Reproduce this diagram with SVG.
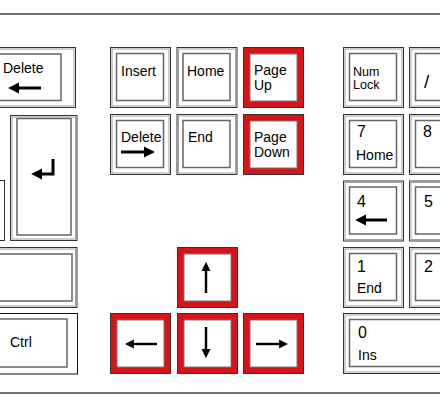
<svg xmlns="http://www.w3.org/2000/svg" xmlns:xlink="http://www.w3.org/1999/xlink" width="440" height="418" viewBox="0 0 440 418">
<style>
.ko{fill:#fff;stroke:#333;stroke-width:1}
.kg{fill:none;stroke:#a0a0a0;stroke-width:1}
.ki{fill:#fff;stroke:#666;stroke-width:1.5}
.rk{fill:#d7141a;stroke:#333;stroke-width:1}
.ri{fill:#fff;stroke:#777;stroke-width:1}
.rule{stroke:#444;stroke-width:1.5}
text{font-family:"Liberation Sans",Arial,sans-serif;fill:#000}
.lb{font-size:14px}
.sm{font-size:12.5px}
.dg{font-size:16px}
.ar{fill:none;stroke:#000;stroke-width:3}
.ar2{fill:none;stroke:#000;stroke-width:2.4}
</style>
<defs>
<marker id="hd" viewBox="0 0 10 10" refX="1" refY="5" markerWidth="11" markerHeight="12" markerUnits="userSpaceOnUse" orient="auto"><path d="M0,0 L10,5 L0,10 z" fill="#000"/></marker>
<marker id="hs" viewBox="0 0 10 10" refX="1" refY="5" markerWidth="9" markerHeight="11" markerUnits="userSpaceOnUse" orient="auto"><path d="M0,0 L10,5 L0,10 z" fill="#000"/></marker>
<g id="std">
<rect x="0.5" y="0.5" width="60" height="60" class="ko"/>
<rect x="2" y="2" width="57" height="57" class="kg"/>
<rect x="6.5" y="6.5" width="47" height="47" class="ki"/>
</g>
<g id="red">
<rect x="0.5" y="0.5" width="60" height="60" class="rk"/>
<rect x="7" y="7" width="47" height="47" class="ri"/>
</g>
</defs>

<g id="frame">
<line x1="0" y1="14" x2="440" y2="14" class="rule"/>
<line x1="0" y1="393" x2="440" y2="393" class="rule"/>
</g>

<g id="key-delete-left">
<rect x="-10" y="47.5" width="85.5" height="60" class="ko"/>
<rect x="-10" y="49" width="84" height="57" class="kg"/>
<rect x="-10" y="54" width="71" height="46.5" class="ki"/>
<text x="3" y="73" class="lb">Delete</text>
</g>
<g id="key-enter">
<rect x="10.5" y="115.5" width="66.5" height="125" class="ko"/>
<rect x="12" y="117" width="63.5" height="122" class="kg"/>
<rect x="17" y="118.5" width="54" height="116.5" class="ki"/>
</g>
<g id="key-partial">
<rect x="-60" y="180.5" width="64.5" height="60" class="ko"/>
</g>
<g id="key-shift">
<rect x="-10" y="247.5" width="87" height="60" class="ko"/>
<rect x="-10" y="249" width="85.5" height="57" class="kg"/>
<rect x="-10" y="254" width="82" height="47" class="ki"/>
</g>
<g id="key-ctrl">
<rect x="-10" y="313.5" width="87.5" height="60.5" class="ko" style="stroke:#111"/>
<rect x="-10" y="319" width="77" height="48" class="ki"/>
<text x="10" y="347" class="lb">Ctrl</text>
</g>

<g id="key-insert"><use xlink:href="#std" x="110" y="47"/><text x="121" y="76" class="lb">Insert</text></g>
<g id="key-home"><use xlink:href="#std" x="176.5" y="47"/><text x="187" y="76" class="lb">Home</text></g>
<g id="key-pageup"><use xlink:href="#red" x="243" y="47"/><text x="254" y="75" class="lb">Page</text><text x="254" y="89.5" class="lb">Up</text></g>
<g id="key-delete"><use xlink:href="#std" x="110" y="114"/><text x="121" y="142" class="lb">Delete</text></g>
<g id="key-end"><use xlink:href="#std" x="176.5" y="114"/><text x="188" y="142" class="lb">End</text></g>
<g id="key-pagedown"><use xlink:href="#red" x="243" y="114"/><text x="254" y="142" class="lb">Page</text><text x="254" y="157" class="lb">Down</text></g>

<g id="key-up"><use xlink:href="#red" x="177" y="247"/></g>
<g id="key-left"><use xlink:href="#red" x="110" y="313"/></g>
<g id="key-down"><use xlink:href="#red" x="177" y="313"/></g>
<g id="key-right"><use xlink:href="#red" x="243" y="313"/></g>

<g id="key-numlock"><use xlink:href="#std" x="343" y="47"/><text x="353" y="76" class="sm">Num</text><text x="353" y="89" class="sm">Lock</text></g>
<g id="key-divide">
<rect x="409.5" y="47.5" width="60" height="60" class="ko"/>
<rect x="411" y="49" width="57" height="57" class="kg"/>
<rect x="415.5" y="53.5" width="47" height="47" class="ki"/>
<text x="424" y="88" style="font-size:19px">/</text>
</g>
<g id="key-7"><use xlink:href="#std" x="343" y="114"/><text x="357" y="137" class="dg">7</text><text x="356" y="160" class="lb">Home</text></g>
<g id="key-8"><use xlink:href="#std" x="409" y="114"/><text x="423" y="137" class="dg">8</text></g>
<g id="key-4"><use xlink:href="#std" x="343" y="180.5"/><text x="357" y="207" class="dg">4</text></g>
<g id="key-5"><use xlink:href="#std" x="409" y="180.5"/><text x="424" y="207" class="dg">5</text></g>
<g id="key-1"><use xlink:href="#std" x="343" y="247"/><text x="357" y="272" class="dg">1</text><text x="357" y="293" class="lb">End</text></g>
<g id="key-2"><use xlink:href="#std" x="409" y="247"/><text x="424" y="272" class="dg">2</text></g>
<g id="key-0">
<rect x="343.5" y="313.5" width="140" height="60" class="ko"/>
<rect x="345" y="315" width="137" height="57" class="kg"/>
<rect x="349.5" y="319.5" width="127" height="47" class="ki"/>
<text x="358" y="338" class="dg">0</text><text x="358" y="360" class="lb">Ins</text>
</g>

<g id="connectors">
<path d="M41,88 H18" class="ar" marker-end="url(#hd)"/>
<path d="M121,152 H145" class="ar" marker-end="url(#hd)"/>
<path d="M53,159 V174 H41" class="ar" marker-end="url(#hd)"/>
<path d="M387,220 H365" class="ar" marker-end="url(#hd)"/>
<path d="M206,293 V270" class="ar2" marker-end="url(#hs)"/>
<path d="M206,327 V350" class="ar2" marker-end="url(#hs)"/>
<path d="M157,344 H133" class="ar2" marker-end="url(#hs)"/>
<path d="M256,344 H280" class="ar2" marker-end="url(#hs)"/>
</g>
</svg>
